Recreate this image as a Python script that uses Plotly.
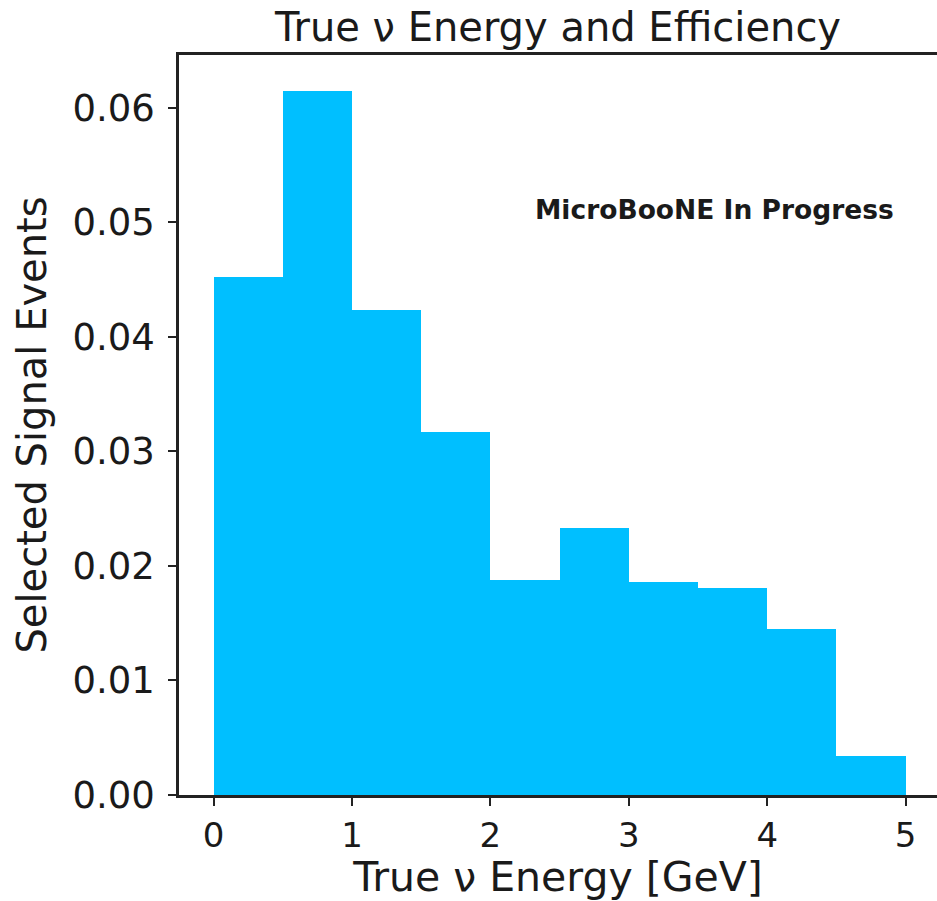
import plotly.graph_objects as go

# Histogram data
bin_edges = [0.0, 0.5, 1.0, 1.5, 2.0, 2.5, 3.0, 3.5, 4.0, 4.5, 5.0]
selected_signal = [0.0452, 0.0615, 0.0423, 0.0317, 0.0188, 0.0233, 0.0186, 0.0181, 0.0145, 0.0034]
x_ticks = [0, 1, 2, 3, 4, 5]
y_ticks = [0.00, 0.01, 0.02, 0.03, 0.04, 0.05, 0.06]

centers = [(a + b) / 2 for a, b in zip(bin_edges[:-1], bin_edges[1:])]
widths = [b - a for a, b in zip(bin_edges[:-1], bin_edges[1:])]

FONT = "DejaVu Sans"
TXT = "#1a1a1a"

fig = go.Figure()
fig.add_trace(go.Bar(
    x=centers, y=selected_signal, width=widths,
    marker=dict(color="#00BFFF", line=dict(width=0)),
    showlegend=False,
))

fig.add_annotation(
    x=2.31, y=0.0511, xref="x", yref="y",
    text="<b>MicroBooNE In Progress</b>", showarrow=False,
    xanchor="left", yanchor="middle",
    font=dict(family=FONT, size=26.5, color=TXT),
)

fig.update_layout(
    width=937, height=901,
    margin=dict(l=179, r=0, t=55, b=106),
    paper_bgcolor="white", plot_bgcolor="white",
    bargap=0,
    title=dict(text="True ν Energy and Efficiency", x=0.5955, xanchor="center",
               y=1 - 27 / 901, yref="container", yanchor="middle",
               font=dict(family=FONT, size=40, color=TXT)),
    font=dict(family=FONT, color=TXT),
)

fig.update_xaxes(
    range=[-0.25, -0.25 + 758 / 138.4],
    tickvals=x_ticks, ticktext=[str(v) for v in x_ticks],
    ticks="outside", ticklen=8, tickwidth=2, tickcolor="#222",
    tickfont=dict(family=FONT, size=34, color=TXT),
    showline=True, linecolor="#222", linewidth=2.5, mirror=True,
    showgrid=False, zeroline=False,
    title=dict(text="True ν Energy [GeV]", standoff=9,
               font=dict(family=FONT, size=41, color=TXT)),
)
fig.update_yaxes(
    range=[0, 740 / 11455],
    tickvals=y_ticks, ticktext=[f"{v:.2f}" for v in y_ticks],
    ticks="outside", ticklen=8, tickwidth=2, tickcolor="#222",
    ticklabelstandoff=6,
    tickfont=dict(family=FONT, size=37, color=TXT),
    showline=True, linecolor="#222", linewidth=2.5, mirror=False,
    showgrid=False, zeroline=False,
    title=dict(text="Selected Signal Events", standoff=14,
               font=dict(family=FONT, size=40, color=TXT)),
)

fig.write_html("out.html")
